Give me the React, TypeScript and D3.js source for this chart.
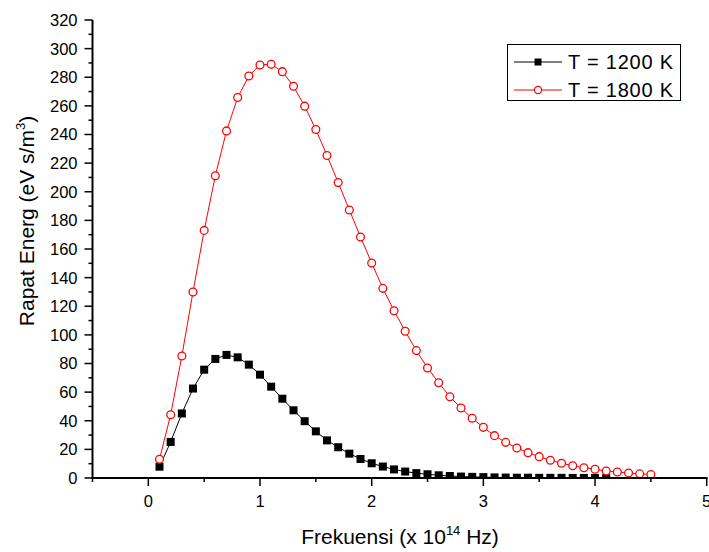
import React from 'react';
import * as d3 from 'd3';

const freq1200 = [0.1, 0.2, 0.3, 0.4, 0.5, 0.6, 0.7, 0.8, 0.9, 1.0, 1.1, 1.2, 1.3, 1.4, 1.5, 1.6, 1.7, 1.8, 1.9, 2.0, 2.1, 2.2, 2.3, 2.4, 2.5, 2.6, 2.7, 2.8, 2.9, 3.0, 3.1, 3.2, 3.3, 3.4, 3.5, 3.6, 3.7, 3.8, 3.9, 4.0, 4.1];
const energy1200 = [7.9, 25.2, 45.1, 62.5, 75.7, 83.2, 86.0, 84.3, 79.2, 72.2, 63.8, 55.4, 47.3, 39.7, 32.6, 26.3, 21.5, 17.0, 13.3, 10.3, 8.0, 6.0, 4.5, 3.4, 2.6, 1.9, 1.4, 1.0, 0.8, 0.6, 0.4, 0.3, 0.2, 0.2, 0.1, 0.1, 0.1, 0.05, 0.04, 0.03, 0.02];

const freq1800 = [0.1, 0.2, 0.3, 0.4, 0.5, 0.6, 0.7, 0.8, 0.9, 1.0, 1.1, 1.2, 1.3, 1.4, 1.5, 1.6, 1.7, 1.8, 1.9, 2.0, 2.1, 2.2, 2.3, 2.4, 2.5, 2.6, 2.7, 2.8, 2.9, 3.0, 3.1, 3.2, 3.3, 3.4, 3.5, 3.6, 3.7, 3.8, 3.9, 4.0, 4.1, 4.2, 4.3, 4.4, 4.5];
const energy1800 = [13.1, 44.2, 85.2, 130.0, 173.0, 211.2, 242.5, 265.8, 280.9, 288.6, 289.1, 283.9, 273.7, 259.8, 243.5, 225.3, 206.4, 187.3, 168.4, 150.2, 132.5, 116.9, 102.5, 89.0, 76.9, 66.6, 56.8, 48.9, 41.7, 35.4, 29.6, 24.9, 21.0, 17.7, 14.9, 12.4, 10.3, 8.6, 7.2, 6.1, 4.9, 4.2, 3.5, 2.9, 2.4];

const xTickValues = [0, 1, 2, 3, 4, 5];
const xMinorTickValues = [-0.5, 0.5, 1.5, 2.5, 3.5, 4.5];
const yTickValues = [0, 20, 40, 60, 80, 100, 120, 140, 160, 180, 200, 220, 240, 260, 280, 300, 320];
const seriesNames = ['T = 1200 K', 'T = 1800 K'];

const W = 709;
const H = 552;
const left = 92.5;
const right = 706.7;
const top = 20;
const bottom = 478;

export default function App() {
  const x = d3.scaleLinear().domain([-0.5, 5]).range([left, right]);
  const y = d3.scaleLinear().domain([0, 320]).range([bottom, top]);
  const yMinor = d3.range(10, 320, 20);

  const line = d3
    .line<[number, number]>()
    .x((d) => x(d[0]))
    .y((d) => y(d[1]));

  const d1200: [number, number][] = freq1200.map((f, i) => [f, energy1200[i]]);
  const d1800: [number, number][] = freq1800.map((f, i) => [f, energy1800[i]]);

  const font = 'Arial, "Liberation Sans", Helvetica, sans-serif';
  const sq = 8;
  const r = 3.9;

  return (
    <svg
      width={W}
      height={H}
      style={{ position: 'absolute', left: 0, top: 0, background: '#fff' }}
      fontFamily={font}
    >
      <defs>
        <clipPath id="plotClip">
          <rect x={left} y={0} width={W - left} height={bottom} />
        </clipPath>
      </defs>

      {/* series */}
      <g clipPath="url(#plotClip)">
        <path d={line(d1200) || ''} fill="none" stroke="#000" strokeWidth={1} />
        {d1200.map((d, i) => (
          <rect
            key={'s' + i}
            x={x(d[0]) - sq / 2}
            y={y(d[1]) - sq / 2}
            width={sq}
            height={sq}
            fill="#000"
          />
        ))}
        <path d={line(d1800) || ''} fill="none" stroke="#ff0000" strokeWidth={1} />
        {d1800.map((d, i) => (
          <circle
            key={'c' + i}
            cx={x(d[0])}
            cy={y(d[1])}
            r={r}
            fill="#fff"
            stroke="#ff0000"
            strokeWidth={1.3}
          />
        ))}
      </g>

      {/* y axis */}
      <line x1={left} x2={left} y1={top} y2={bottom} stroke="#000" strokeWidth={2} />
      {yTickValues.map((t) => (
        <g key={'yt' + t}>
          <line x1={left - 8} x2={left} y1={y(t)} y2={y(t)} stroke="#000" strokeWidth={1.5} />
          <text
            x={left - 15}
            y={y(t)}
            dy="0.36em"
            textAnchor="end"
            fontSize={16.5}
            fill="#000"
          >
            {t}
          </text>
        </g>
      ))}
      {yMinor.map((t) => (
        <line key={'ym' + t} x1={left - 4} x2={left} y1={y(t)} y2={y(t)} stroke="#000" strokeWidth={1.5} />
      ))}

      {/* x axis */}
      <line x1={left - 1} x2={right + 1} y1={bottom} y2={bottom} stroke="#000" strokeWidth={2} />
      {xTickValues.map((t) => (
        <g key={'xt' + t}>
          <line x1={x(t)} x2={x(t)} y1={bottom} y2={bottom + 8} stroke="#000" strokeWidth={1.5} />
          <text x={x(t)} y={507} textAnchor="middle" fontSize={16.5} fill="#000">
            {t}
          </text>
        </g>
      ))}
      {xMinorTickValues.map((t) => (
        <line key={'xm' + t} x1={x(t)} x2={x(t)} y1={bottom} y2={bottom + 4} stroke="#000" strokeWidth={1.5} />
      ))}

      {/* axis titles */}
      <text x={400} y={544} textAnchor="middle" fontSize={21} fill="#000">
        Frekuensi (x 10
        <tspan fontSize={13} dy={-9}>14</tspan>
        <tspan dy={9}> Hz)</tspan>
      </text>
      <text transform="translate(34,221) rotate(-90)" textAnchor="middle" fontSize={21} fill="#000">
        Rapat Energ (eV s/m
        <tspan fontSize={13} dy={-9}>3</tspan>
        <tspan dy={9}>)</tspan>
      </text>

      {/* legend */}
      <rect x={507.5} y={44.5} width={173} height={56} fill="#fff" stroke="#000" strokeWidth={1} />
      <line x1={514} x2={562} y1={62} y2={62} stroke="#000" strokeWidth={1} />
      <rect x={538 - 3.5} y={62 - 3.5} width={7} height={7} fill="#000" />
      <text x={568} y={62} dy="0.36em" fontSize={20} textLength={105} lengthAdjust="spacing" fill="#000">
        {seriesNames[0]}
      </text>
      <line x1={514} x2={562} y1={90} y2={90} stroke="#ff0000" strokeWidth={1} />
      <circle cx={538} cy={90} r={3.6} fill="#fff" stroke="#ff0000" strokeWidth={1.2} />
      <text x={568} y={90} dy="0.36em" fontSize={20} textLength={105} lengthAdjust="spacing" fill="#000">
        {seriesNames[1]}
      </text>
    </svg>
  );
}
